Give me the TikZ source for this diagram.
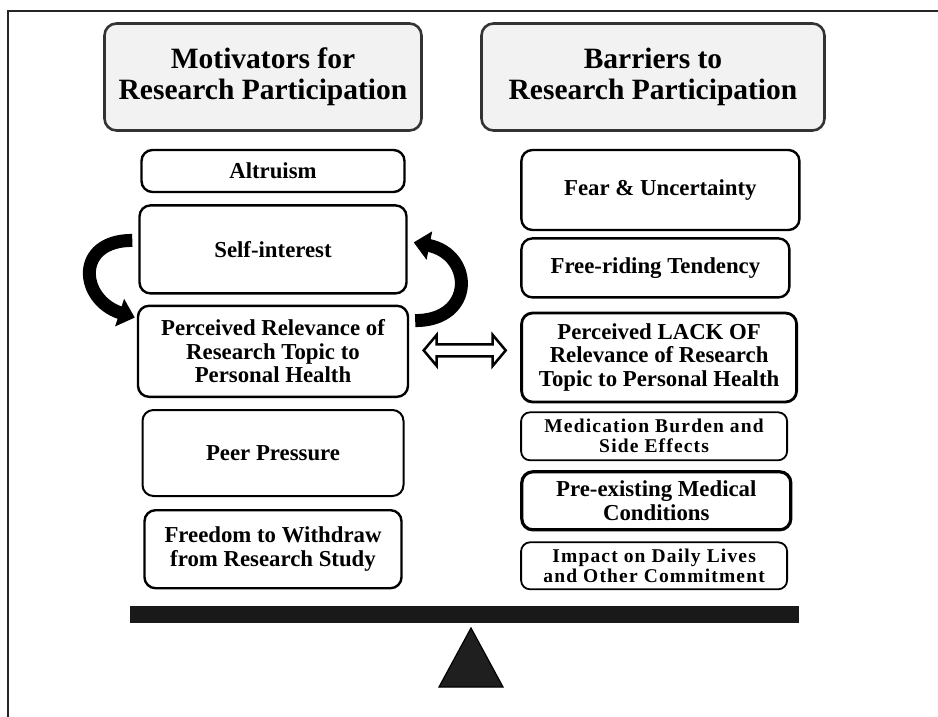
\documentclass[tikz,border=0pt]{standalone}
\usepackage{fontspec}
\setmainfont{Liberation Serif}
\newfontfamily\widefont[LetterSpace=6]{Liberation Serif}
\usetikzlibrary{positioning, arrows.meta, calc}

\begin{document}
\begin{tikzpicture}[
        x=1pt, y=-1pt,
        head/.style={rectangle, draw=black!80, line width=2.6pt, fill=black!5, rounded corners=12pt, minimum width=317pt, minimum height=107pt, align=center, font=\fontsize{29.5pt}{31pt}\selectfont\bfseries},
        box/.style={rectangle, draw=black, line width=2.4pt, fill=white, rounded corners=11pt, inner sep=3pt, align=center, font=\fontsize{22.8pt}{23.5pt}\selectfont\bfseries},
        thinbox/.style={box, line width=1.8pt, rounded corners=9pt, font=\fontsize{19.5pt}{20pt}\selectfont\widefont\bfseries},
        thickbox/.style={box, line width=3.2pt},
        looparrow/.style={line width=13pt, -{Triangle[length=16pt, width=28pt]}},
        link/.style={draw=black, line width=2.5pt, fill=white, line join=miter}
        ]
        \useasboundingbox (0,0) rectangle (938,717);
        \draw[line width=1.5pt, black!85] (8,717) -- (8,11) -- (938,11);

        \node[head] (mhead) at (263,77) {Motivators for\\Research Participation};
        \node[head, minimum width=343pt] (bhead) at (653,77) {Barriers to\\Research Participation};

        \node[box, below=17pt of mhead, xshift=10pt, minimum width=263pt, minimum height=42pt] (altr) {Altruism};
        \node[box, below=11pt of altr, minimum width=267pt, minimum height=88pt] (self) {Self-interest};
        \node[box, below=10pt of self, minimum width=270pt, minimum height=91pt] (relev) {Perceived Relevance of\\Research Topic to\\Personal Health};
        \node[box, line width=2pt, below=11pt of relev, minimum width=261pt, minimum height=86pt] (peer) {Peer Pressure};
        \node[box, below=12pt of peer, minimum width=257pt, minimum height=78pt] (withdraw) {Freedom to Withdraw\\from Research Study};

        \node[box, below right=17pt and 40pt of bhead.south west, minimum width=278pt, minimum height=80pt] (fear) {Fear \& Uncertainty};
        \node[box, below right=6pt and 0pt of fear.south west, minimum width=268pt, minimum height=59pt] (ride) {Free-riding Tendency};
        \node[box, line width=2.8pt, below right=13pt and 0pt of ride.south west, minimum width=275pt, minimum height=89pt] (lack) {Perceived LACK OF\\Relevance of Research\\Topic to Personal Health};
        \node[thinbox, below right=8pt and 0pt of lack.south west, minimum width=266pt, minimum height=48pt] (burden) {Medication Burden and\\Side Effects};
        \node[thickbox, below right=9pt and 0pt of burden.south west, minimum width=269pt, minimum height=58pt] (cond) {Pre-existing Medical\\Conditions};
        \node[thinbox, below right=10pt and 0pt of cond.south west, minimum width=266pt, minimum height=47pt] (daily) {Impact on Daily Lives\\and Other Commitment};

        \draw[looparrow] ($(self.west)+(-6,-9)$) .. controls +(-58,0) and +(-55,-18) .. ($(relev.north west)+(-2,13)$);
        \draw[looparrow] ($(relev.north east)+(6,16)$) .. controls +(60,0) and +(60,12) .. ($(self.east)+(6,-7)$);

        \coordinate (mid) at ($(relev.east)!.5!(lack.west)+(0,-4)$);
        \draw[link, shift={(mid)}] (-41,0) -- (-28,-15.5) -- (-28,-6) -- (28,-6) -- (28,-15.5) -- (41,0) -- (28,15.5) -- (28,6) -- (-28,6) -- (-28,15.5) -- cycle;

        \fill[black!90] (130,606) rectangle (799,623);
        \draw[fill=black!88, line width=1.2pt] (471,628) -- (503,687) -- (439,687) -- cycle;
    \end{tikzpicture}
\end{document}
